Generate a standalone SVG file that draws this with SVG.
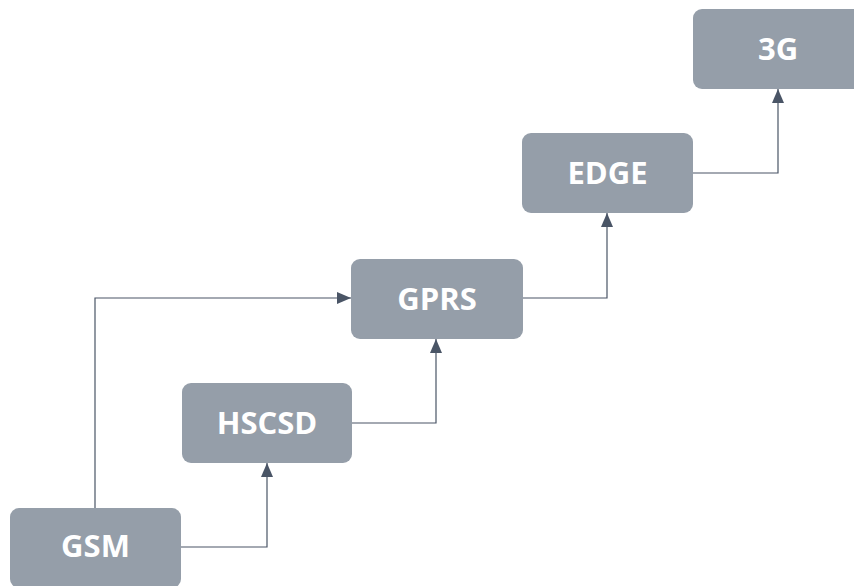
<svg xmlns="http://www.w3.org/2000/svg" width="854" height="586" viewBox="0 0 854 586">
<style>
.box{fill:#959ea9;}
.lbl{fill:#ffffff;font-family:"Open Sans",sans-serif;font-weight:bold;font-size:31px;text-anchor:middle;}
.con{fill:none;stroke:#4a5566;stroke-width:1.2;}
</style>
<defs>
<marker id="arr" viewBox="0 0 14 12" refX="14" refY="6" markerWidth="14" markerHeight="12" markerUnits="userSpaceOnUse" orient="auto">
<path d="M0,0 L14,6 L0,12 Z" fill="#4a5566"/>
</marker>
</defs>
<g id="connectors">
<polyline class="con" points="181,547 267,547 267,463" marker-end="url(#arr)"/>
<polyline class="con" points="95,508 95,298 351,298" marker-end="url(#arr)"/>
<polyline class="con" points="352,423 436,423 436,339" marker-end="url(#arr)"/>
<polyline class="con" points="523,298 607,298 607,213" marker-end="url(#arr)"/>
<polyline class="con" points="693,173 778,173 778,89" marker-end="url(#arr)"/>
</g>
<g id="GSM"><rect class="box" x="10" y="508" width="171" height="80" rx="9"/><text class="lbl" x="95.5" y="557">GSM</text></g>
<g id="HSCSD"><rect class="box" x="182" y="383" width="170" height="80" rx="9"/><text class="lbl" x="267" y="434">HSCSD</text></g>
<g id="GPRS"><rect class="box" x="351" y="259" width="172" height="80" rx="9"/><text class="lbl" x="437" y="310">GPRS</text></g>
<g id="EDGE"><rect class="box" x="522" y="133" width="171" height="80" rx="9"/><text class="lbl" x="607.5" y="184">EDGE</text></g>
<g id="n3G"><rect class="box" x="693" y="9" width="170" height="80" rx="9"/><text class="lbl" x="778" y="60">3G</text></g>
</svg>
